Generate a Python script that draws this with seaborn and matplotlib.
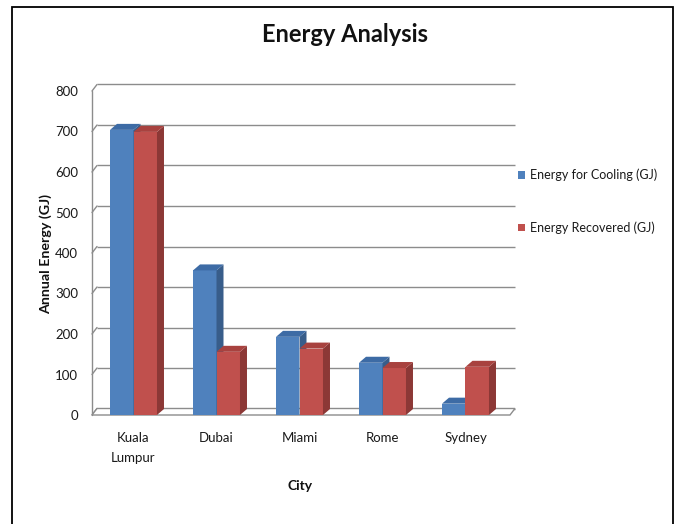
import matplotlib
matplotlib.use("Agg")
import matplotlib.pyplot as plt
from matplotlib.patches import Polygon, Rectangle
import pandas as pd
import seaborn as sns

# ---- data ----
cities = ["Kuala\nLumpur", "Dubai", "Miami", "Rome", "Sydney"]
cooling = [704, 357, 193, 129, 28]
recovered = [699, 156, 164, 116, 119]
series_names = ["Energy for Cooling (GJ)", "Energy Recovered (GJ)"]
y_ticks = [0, 100, 200, 300, 400, 500, 600, 700, 800]

title = "Energy Analysis"
x_title = "City"
y_title = "Annual Energy (GJ)"

# face colours: front, side, top
blue = ("#4F81BD", "#385D8A", "#3D6BA5")
red = ("#C0504D", "#8C3836", "#A8423F")
grid_col = "#8C8C8C"

df = pd.DataFrame({
    "City": cities * 2,
    "Energy": cooling + recovered,
    "Series": [series_names[0]] * len(cities) + [series_names[1]] * len(cities),
})

sns.set_theme(style="white")
plt.rcParams["font.family"] = ["Lato", "DejaVu Sans"]

W, H = 681, 524
fig = plt.figure(figsize=(W / 100, H / 100), dpi=100)
fig.patch.set_facecolor("white")

# front plane of the plot area in pixels
px_left, px_right, px_zero, px_top = 92, 507, 415, 91
ax = fig.add_axes([px_left / W, 1 - px_zero / H,
                   (px_right - px_left) / W, (px_zero - px_top) / H])

sns.barplot(data=df, x="City", y="Energy", hue="Series",
            palette=[blue[0], red[0]], width=0.566, saturation=1,
            linewidth=0, legend=False, ax=ax)

# keep only the real bars (seaborn may add zero-size placeholders)
bars = [p for p in ax.patches if isinstance(p, Rectangle) and p.get_width() > 0]
bars = sorted(bars, key=lambda p: p.get_x())

xmin, xmax, ymin, ymax = -0.5, 4.5, 0, 800
ax.set_xlim(xmin, xmax)
ax.set_ylim(ymin, ymax)
ax.set_yticks(y_ticks)
ax.set_facecolor("none")
for s in ax.spines.values():
    s.set_visible(False)
ax.set_xlabel("")
ax.set_ylabel("")
ax.tick_params(axis="y", length=0, pad=10, labelsize=9.5, labelcolor="#1a1a1a")
ax.tick_params(axis="x", length=0, pad=12.5, labelsize=9.5, labelcolor="#1a1a1a")
for t in ax.get_xticklabels():
    t.set_linespacing(1.75)

# pixel -> data conversions for the depth offset
ux = (px_right - px_left) / (xmax - xmin)
uy = (px_zero - px_top) / (ymax - ymin)
wall_dx, wall_dy = 5 / ux, 6.5 / uy
bar_dx, bar_dy = 7 / ux, 6 / uy
extra_r = 3 / ux

# back wall gridlines and left wall
for v in y_ticks:
    ax.plot([xmin + wall_dx, xmax + wall_dx + extra_r], [v + wall_dy, v + wall_dy],
            color=grid_col, lw=1.0, zorder=1, solid_capstyle="butt", clip_on=False)
    ax.plot([xmin, xmin + wall_dx], [v, v + wall_dy], color=grid_col, lw=1.0,
            zorder=1, clip_on=False)
ax.plot([xmin, xmin], [ymin, ymax], color=grid_col, lw=1.0, zorder=1, clip_on=False)

# floor
floor = Polygon([(xmin, 0), (xmax + extra_r, 0),
                 (xmax + extra_r + wall_dx, wall_dy), (xmin + wall_dx, wall_dy)],
                closed=True, facecolor="white", edgecolor=grid_col, lw=1.0,
                zorder=1.5, clip_on=False)
ax.add_patch(floor)

# 3-D side and top faces for every bar, stacked left to right
for k, b in enumerate(bars):
    x0, w, h = b.get_x(), b.get_width(), b.get_height()
    x1 = x0 + w
    fc = b.get_facecolor()
    cols = blue if fc[2] > fc[0] else red
    z = 3 + k * 0.1
    b.set_zorder(z)
    b.set_clip_on(False)
    side = Polygon([(x1, 0), (x1 + bar_dx, bar_dy), (x1 + bar_dx, h + bar_dy), (x1, h)],
                   closed=True, facecolor=cols[1], edgecolor="none", zorder=z + 0.01,
                   clip_on=False)
    top = Polygon([(x0, h), (x1, h), (x1 + bar_dx, h + bar_dy), (x0 + bar_dx, h + bar_dy)],
                  closed=True, facecolor=cols[2], edgecolor="none", zorder=z + 0.02,
                  clip_on=False)
    ax.add_patch(side)
    ax.add_patch(top)

# titles
fig.text(345 / W, 1 - 34 / H, title, ha="center", va="center",
         fontsize=17, fontweight="bold", color="#111111")
fig.text(300 / W, 1 - 486 / H, x_title, ha="center", va="center",
         fontsize=10, fontweight="bold", color="#111111")
fig.text(46 / W, 1 - 254 / H, y_title, ha="center", va="center", rotation=90,
         fontsize=10.3, fontweight="bold", color="#111111")

# legend
for i, (name, cols) in enumerate(zip(series_names, [blue, red])):
    yc = 175 + i * 53
    fig.add_artist(Rectangle((518 / W, 1 - (yc + 3.5) / H), 7 / W, 7 / H,
                             transform=fig.transFigure, facecolor=cols[0],
                             edgecolor="none"))
    fig.text(530 / W, 1 - yc / H, name, ha="left", va="center",
             fontsize=9, color="#1a1a1a")

# outer frame
fig.add_artist(Rectangle((11.5 / W, -0.01), (673 - 11.5) / W, 1 - 6.5 / H + 0.01,
                         transform=fig.transFigure, facecolor="none",
                         edgecolor="black", lw=1.3))

fig.savefig("out.png", dpi=100)
